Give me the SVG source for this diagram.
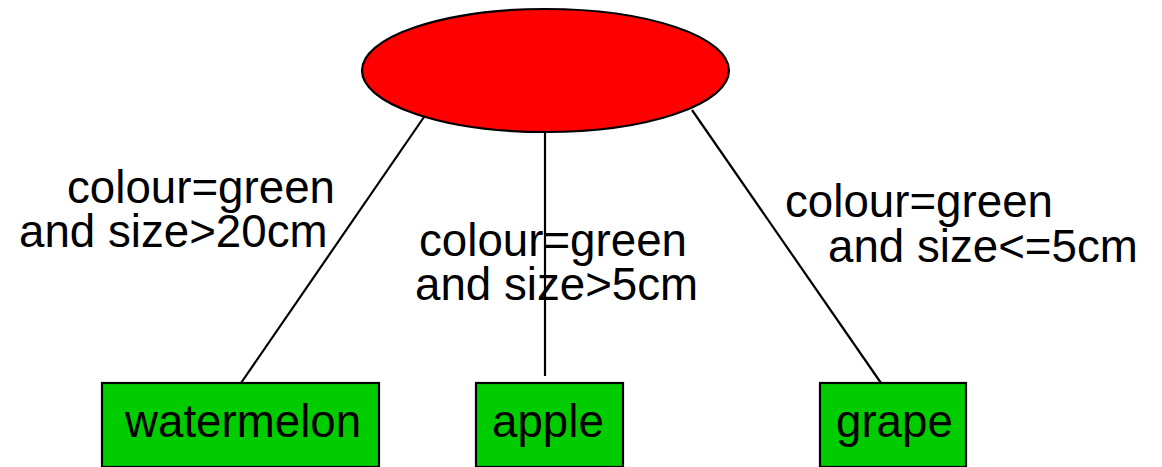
<svg xmlns="http://www.w3.org/2000/svg" width="1162" height="467" viewBox="0 0 1162 467">
<style>
text{font-family:"Liberation Sans",Arial,Helvetica,sans-serif;font-size:45.7px;fill:#000}
.edge{stroke:#000;stroke-width:2.2;fill:none}
.leaf rect{fill:#00cc00;stroke:#000;stroke-width:2.2}
</style>
<rect width="1162" height="467" fill="#fff"/>
<g id="connectors">
<line class="edge" x1="424" y1="117" x2="241" y2="383"/>
<line class="edge" x1="545" y1="132" x2="545" y2="376"/>
<line class="edge" x1="692" y1="110" x2="881" y2="383"/>
<text x="67" y="203">colour=green</text>
<text x="19" y="247">and size&gt;20cm</text>
<text x="419" y="256">colour=green</text>
<text x="415" y="300">and size&gt;5cm</text>
<text x="785" y="217">colour=green</text>
<text x="828" y="262">and size&lt;=5cm</text>
</g>
<g id="root">
<ellipse cx="545.5" cy="70.5" rx="183.5" ry="61.5" fill="#ff0000" stroke="#000" stroke-width="2.2"/>
</g>
<g id="watermelon" class="leaf">
<rect x="102" y="383" width="277" height="84"/>
<text x="125" y="437">watermelon</text>
</g>
<g id="apple" class="leaf">
<rect x="476" y="383" width="147" height="84"/>
<text x="492" y="437">apple</text>
</g>
<g id="grape" class="leaf">
<rect x="820" y="383" width="146" height="84"/>
<text x="836" y="437">grape</text>
</g>
</svg>
